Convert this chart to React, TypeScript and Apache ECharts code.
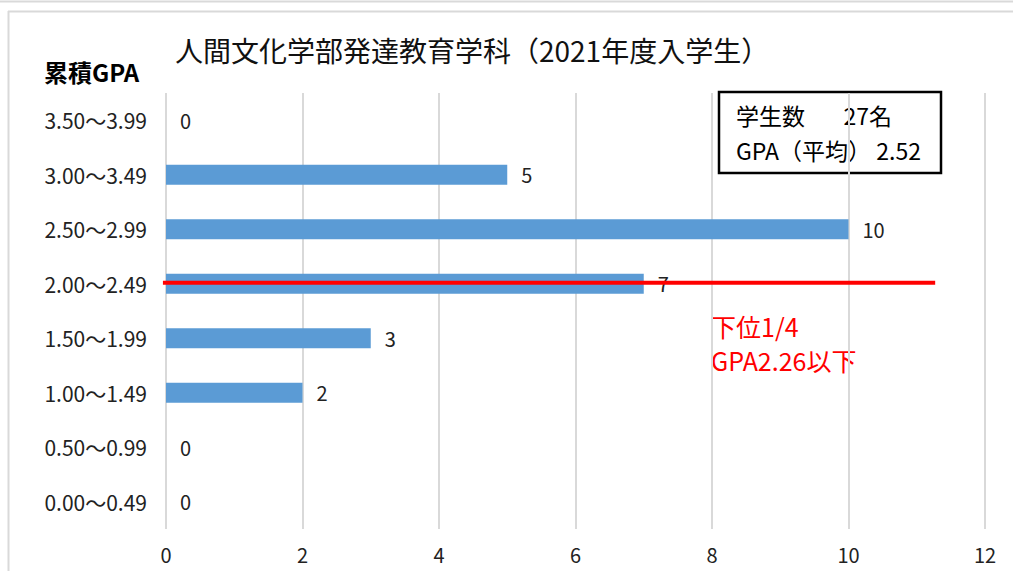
import React, { useEffect, useRef } from "react";
import * as echarts from "echarts";

const categories = [
  "0.00～0.49",
  "0.50～0.99",
  "1.00～1.49",
  "1.50～1.99",
  "2.00～2.49",
  "2.50～2.99",
  "3.00～3.49",
  "3.50～3.99",
];
const counts = [0, 0, 2, 3, 7, 10, 5, 0];
const xTicks = [0, 2, 4, 6, 8, 10, 12];
const titleText = "人間文化学部発達教育学科（2021年度入学生）";
const yAxisName = "累積GPA";
const boxLines = ["学生数　   27名", "GPA（平均） 2.52"];
const noteLines = ["下位1/4", "GPA2.26以下"];
const thresholdCategory = "2.00～2.49";
const thresholdRange = [-0.045, 11.27];

const FONT = "'Noto Sans CJK JP', 'Noto Sans', sans-serif";

export default function App() {
  const ref = useRef<HTMLDivElement>(null);
  useEffect(() => {
    if (!ref.current) return;
    const chart = echarts.init(ref.current, null, { renderer: "svg" });
    chart.setOption({
      animation: false,
      textStyle: { fontFamily: FONT },
      grid: { left: 166, right: 28, top: 93, bottom: 42, containLabel: false },
      xAxis: {
        type: "value",
        min: xTicks[0],
        max: xTicks[xTicks.length - 1],
        interval: 2,
        axisLine: { show: false },
        axisTick: { show: false },
        axisLabel: { color: "#222", fontSize: 20, margin: 15, fontFamily: FONT },
        splitLine: { lineStyle: { color: "#d9d9d9", width: 2 } },
      },
      yAxis: {
        type: "category",
        data: categories,
        axisLine: { show: false },
        axisTick: { show: false },
        axisLabel: { color: "#222", fontSize: 21, margin: 19, fontFamily: FONT },
        splitLine: { show: false },
      },
      series: [
        {
          type: "bar",
          data: counts,
          barWidth: 20,
          itemStyle: { color: "#5b9bd5" },
          label: {
            show: true,
            position: "right",
            distance: 14,
            color: "#222",
            fontSize: 20,
            fontFamily: FONT,
          },
        },
      ],
      graphic: [
        { type: "line", shape: { x1: 0, y1: 1.5, x2: 1013, y2: 1.5 }, style: { stroke: "#d9d9d9", lineWidth: 2 } },
        { type: "line", shape: { x1: 8.5, y1: 11, x2: 8.5, y2: 571 }, style: { stroke: "#d9d9d9", lineWidth: 2 } },
        { type: "line", shape: { x1: 8, y1: 11.5, x2: 1013, y2: 11.5 }, style: { stroke: "#d9d9d9", lineWidth: 2 } },
        {
          type: "text",
          left: 175,
          top: 36,
          style: { text: titleText, fontSize: 28, fill: "#111", fontFamily: FONT },
        },
        {
          type: "text",
          left: 44,
          top: 59,
          style: { text: yAxisName, fontSize: 24, fontWeight: "bold", fill: "#000", fontFamily: FONT },
        },
        {
          type: "rect",
          shape: { x: 719, y: 92, width: 222, height: 81 },
          style: { fill: "none", stroke: "#000", lineWidth: 2.5 },
        },
        {
          type: "text",
          left: 736,
          top: 103,
          style: { text: boxLines[0], fontSize: 23, fill: "#000", fontFamily: FONT },
        },
        {
          type: "text",
          left: 736,
          top: 138,
          style: { text: boxLines[1], fontSize: 23, fill: "#000", fontFamily: FONT },
        },
        {
          type: "text",
          left: 711,
          top: 313,
          style: { text: noteLines[0], fontSize: 25, fill: "#ff0000", fontFamily: FONT },
        },
        {
          type: "text",
          left: 711,
          top: 347,
          style: { text: noteLines[1], fontSize: 25, fill: "#ff0000", fontFamily: FONT },
        },
      ],
    });
    const p1 = chart.convertToPixel({ gridIndex: 0 }, [thresholdRange[0], thresholdCategory]) as number[];
    const p2 = chart.convertToPixel({ gridIndex: 0 }, [thresholdRange[1], thresholdCategory]) as number[];
    chart.setOption({
      graphic: [
        {
          id: "threshold",
          type: "line",
          z: 10,
          shape: { x1: p1[0], y1: p1[1] - 1, x2: p2[0], y2: p2[1] - 1 },
          style: { stroke: "#ff0000", lineWidth: 4 },
        },
      ],
    });
    return () => chart.dispose();
  }, []);
  return (
    <div
      ref={ref}
      style={{ position: "fixed", left: 0, top: 0, width: 1013, height: 571, background: "#fff" }}
    />
  );
}
